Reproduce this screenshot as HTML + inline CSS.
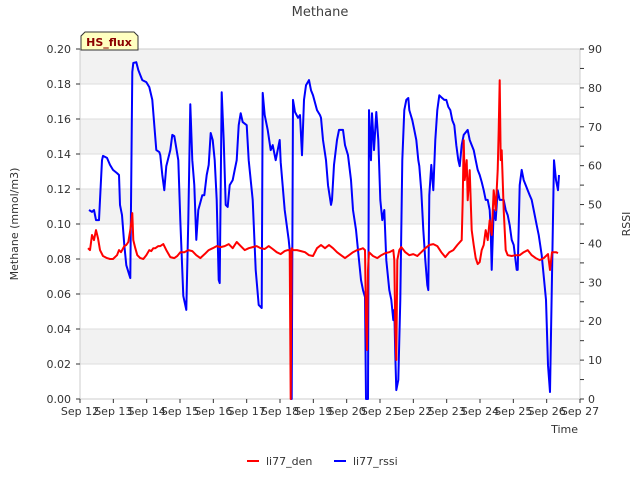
<!DOCTYPE html>
<html><head><meta charset="utf-8"><style>
body{margin:0;background:#fff;font-family:"Liberation Sans","DejaVu Sans",sans-serif;}
svg text{font-family:"DejaVu Sans","Liberation Sans",sans-serif;}
</style></head><body>
<svg id="chart" width="640" height="480" viewBox="0 0 640 480">
<text x="320" y="16" text-anchor="middle" font-size="13" fill="#404040">Methane</text>
<g id="bands"></g><g id="grid"></g>
<rect x="80" y="49" width="500" height="350" fill="none" stroke="#cccccc"/>
<g id="axes"></g><g id="series"></g>
<text transform="translate(18,224) rotate(-90)" text-anchor="middle" font-size="11" fill="#333">Methane (mmol/m3)</text>
<text transform="translate(630,224) rotate(-90)" text-anchor="middle" font-size="11" fill="#333">RSSI</text>
<text x="578" y="433" text-anchor="end" font-size="11" fill="#333">Time</text>
<g>
<path d="M81,50 L81,36 L85,32 L134,32 L138,36 L138,50 Z" fill="#ffffc0" stroke="#333"/>
<text x="109" y="46" text-anchor="middle" font-size="11" font-weight="bold" fill="#8b0000">HS_flux</text></g>
<g>
<g><line x1="247" y1="461" x2="259" y2="461" stroke="#ff0000" stroke-width="2"/><text x="266" y="465" font-size="11" fill="#333">li77_den</text></g>
<g><line x1="334" y1="461" x2="346" y2="461" stroke="#0000ff" stroke-width="2"/><text x="353" y="465" font-size="11" fill="#333">li77_rssi</text></g>
</g>
</svg>
<script>
const rssiTime=[12.27,12.36,12.42,12.48,12.57,12.60,12.66,12.69,12.81,12.90,12.99,13.11,13.17,13.20,13.26,13.33,13.39,13.48,13.51,13.57,13.60,13.69,13.75,13.81,13.87,13.99,14.08,14.17,14.23,14.29,14.38,14.41,14.47,14.53,14.59,14.71,14.77,14.83,14.95,15.01,15.10,15.19,15.25,15.31,15.37,15.43,15.49,15.55,15.67,15.73,15.80,15.86,15.92,15.98,16.04,16.10,16.16,16.19,16.25,16.31,16.37,16.43,16.49,16.58,16.64,16.70,16.76,16.82,16.88,17.00,17.06,17.18,17.27,17.36,17.45,17.48,17.54,17.63,17.72,17.78,17.87,17.93,17.99,18.02,18.14,18.26,18.32,18.35,18.39,18.45,18.54,18.60,18.66,18.72,18.78,18.87,18.93,18.99,19.11,19.20,19.23,19.29,19.38,19.44,19.53,19.56,19.62,19.71,19.77,19.89,19.95,20.04,20.13,20.19,20.28,20.37,20.43,20.49,20.55,20.58,20.64,20.67,20.73,20.76,20.82,20.89,20.95,21.01,21.07,21.13,21.19,21.28,21.34,21.40,21.43,21.46,21.49,21.55,21.61,21.67,21.73,21.79,21.85,21.88,21.97,22.03,22.09,22.15,22.18,22.24,22.30,22.36,22.42,22.45,22.48,22.54,22.60,22.66,22.72,22.78,22.84,22.93,22.99,23.05,23.11,23.17,23.23,23.29,23.35,23.39,23.45,23.51,23.63,23.69,23.75,23.81,23.87,23.93,23.99,24.05,24.11,24.17,24.23,24.29,24.32,24.35,24.41,24.47,24.53,24.59,24.65,24.71,24.77,24.83,24.89,24.95,25.01,25.10,25.13,25.19,25.25,25.31,25.37,25.43,25.49,25.55,25.61,25.70,25.76,25.85,25.98,26.04,26.10,26.22,26.28,26.34,26.37];
const rssiValues=[48.6,48.1,48.6,46.0,46.0,51.2,61.4,62.5,62.0,60.2,58.9,58.1,57.6,49.9,47.3,39.6,34.4,31.9,31.1,84.1,86.4,86.6,84.6,83.3,82.0,81.5,80.2,76.9,70.4,64.0,63.5,62.7,57.6,53.7,59.9,64.0,67.9,67.6,61.4,46.0,26.5,22.9,46.0,75.8,61.4,55.0,40.9,48.6,52.4,52.4,57.6,60.2,68.4,66.6,61.4,51.2,30.6,29.8,78.9,66.6,49.9,49.4,55.0,56.3,58.9,61.4,70.4,73.5,71.2,70.4,61.4,51.2,33.2,24.2,23.4,78.7,73.0,69.2,64.0,65.3,61.4,64.0,66.6,60.9,48.6,40.9,35.7,0,76.9,73.8,72.3,73.0,62.7,76.9,80.7,82.0,79.4,78.1,74.3,73.0,72.3,66.6,61.4,55.0,49.9,51.2,60.2,66.6,69.2,69.2,65.3,62.7,56.3,48.6,43.5,35.7,30.6,28.0,26.2,0,0,74.3,61.4,73.5,64.0,73.8,66.6,51.2,46.0,48.6,35.7,28.0,25.5,20.3,22.9,11.3,2.3,4.9,25.5,61.4,74.3,76.9,77.4,74.3,71.7,69.2,66.6,61.4,59.9,53.4,43.5,35.7,29.3,28.0,52.4,60.2,53.7,66.6,74.3,78.1,77.6,76.9,76.9,75.1,74.3,71.7,70.4,65.3,61.4,59.9,65.3,67.9,69.2,66.6,65.3,64.0,61.4,58.9,57.6,55.8,53.7,51.2,51.2,48.6,43.5,33.2,48.6,46.0,53.7,51.2,51.2,51.2,48.6,47.3,44.7,40.9,39.6,33.2,33.2,55.0,58.9,56.3,55.0,53.7,52.4,51.2,48.6,44.7,42.2,37.0,25.5,8.7,1.8,61.4,56.3,53.7,57.6];
const denTime=[12.24,12.30,12.36,12.42,12.48,12.54,12.60,12.69,12.81,12.90,12.99,13.11,13.17,13.23,13.33,13.39,13.45,13.51,13.57,13.60,13.66,13.72,13.81,13.90,13.99,14.08,14.14,14.20,14.26,14.35,14.41,14.50,14.59,14.71,14.83,14.92,15.01,15.13,15.25,15.37,15.49,15.61,15.77,15.86,15.98,16.10,16.22,16.34,16.46,16.58,16.70,16.82,16.94,17.06,17.18,17.30,17.42,17.54,17.66,17.78,17.90,18.02,18.14,18.23,18.29,18.32,18.35,18.39,18.51,18.63,18.75,18.87,18.99,19.11,19.23,19.35,19.47,19.59,19.71,19.83,19.95,20.07,20.19,20.31,20.43,20.49,20.55,20.58,20.61,20.64,20.67,20.79,20.92,21.04,21.16,21.28,21.40,21.43,21.46,21.49,21.52,21.58,21.64,21.76,21.88,22.00,22.12,22.24,22.36,22.48,22.60,22.72,22.84,22.96,23.08,23.20,23.32,23.45,23.48,23.51,23.54,23.60,23.63,23.69,23.75,23.81,23.87,23.93,23.99,24.05,24.11,24.17,24.23,24.29,24.35,24.41,24.47,24.53,24.56,24.59,24.62,24.65,24.71,24.77,24.83,24.95,25.07,25.19,25.31,25.43,25.55,25.67,25.79,25.91,26.04,26.10,26.16,26.28,26.34];
const denValues=[.0862,.0851,.0937,.0908,.0965,.0919,.0851,.0817,.0805,.0800,.0800,.0822,.0851,.0839,.0874,.0880,.0897,.0965,.1062,.0908,.0862,.0822,.0805,.0800,.0822,.0851,.0845,.0862,.0862,.0874,.0874,.0885,.0851,.0811,.0805,.0817,.0839,.0839,.0851,.0845,.0822,.0805,.0834,.0851,.0862,.0874,.0868,.0874,.0885,.0862,.0897,.0874,.0851,.0862,.0868,.0874,.0862,.0857,.0874,.0857,.0839,.0828,.0845,.0851,.0851,0,.0862,.0851,.0851,.0845,.0839,.0822,.0817,.0862,.0880,.0862,.0880,.0862,.0839,.0822,.0805,.0822,.0839,.0851,.0857,.0862,.0851,.0451,.0280,.0737,.0839,.0817,.0805,.0822,.0834,.0839,.0851,.0794,.0394,.0223,.0794,.0851,.0868,.0839,.0822,.0828,.0817,.0839,.0862,.0880,.0885,.0874,.0839,.0811,.0839,.0851,.0880,.0908,.1136,.1479,.1251,.1365,.1136,.1308,.0965,.0880,.0805,.0771,.0782,.0851,.0880,.0965,.0908,.1022,.0937,.1193,.1079,.1308,.1536,.1822,.1365,.1422,.1079,.0851,.0822,.0817,.0822,.0822,.0839,.0851,.0822,.0805,.0794,.0805,.0828,.0737,.0839,.0839,.0834];
const yTicks=[0,0.02,0.04,0.06,0.08,0.10,0.12,0.14,0.16,0.18,0.20];
const y2Ticks=[0,10,20,30,40,50,60,70,80,90];
const xTickDays=[12,13,14,15,16,17,18,19,20,21,22,23,24,25,26,27];

const NS="http://www.w3.org/2000/svg";
const L=80,R=580,T=49,B=399;
const xs=d=>L+(d-12)/15*(R-L);
const ys=v=>B-v/0.2*(B-T);
const ys2=v=>B-v/90*(B-T);
function mk(tag,attrs,parent){const e=document.createElementNS(NS,tag);for(const k in attrs)e.setAttribute(k,attrs[k]);parent.appendChild(e);return e;}
const bands=document.getElementById('bands'),grid=document.getElementById('grid'),axes=document.getElementById('axes'),series=document.getElementById('series');
for(let i=0;i<yTicks.length-1;i++){
  if(i%2===1){const r=mk('rect',{x:L,y:ys(yTicks[i+1]),width:R-L,height:ys(yTicks[i])-ys(yTicks[i+1]),fill:'#f2f2f2'},bands);
  
  }
}
yTicks.forEach(v=>{
  const g=mk('line',{x1:L,x2:R,y1:ys(v),y2:ys(v),stroke:'#dddddd'},grid);
  
  
  mk('line',{x1:L-4,x2:L,y1:ys(v),y2:ys(v),stroke:'#333'},axes);
  const t=mk('text',{x:L-9,y:ys(v)+4,'text-anchor':'end','font-size':11,fill:'#333'},axes);
  t.textContent=v.toFixed(2);
  
  
});
y2Ticks.forEach(v=>{
  mk('line',{x1:R,x2:R+4,y1:ys2(v),y2:ys2(v),stroke:'#333'},axes);
  if(v<90)mk('line',{x1:R,x2:R+4,y1:ys2(v+5),y2:ys2(v+5),stroke:'#333'},axes);
  const t=mk('text',{x:R+8,y:ys2(v)+4,'font-size':11,fill:'#333'},axes);
  t.textContent=v;
  
  
});
xTickDays.forEach(d=>{
  mk('line',{x1:xs(d),x2:xs(d),y1:B,y2:B+4,stroke:'#333'},axes);
  const t=mk('text',{x:xs(d),y:B+16,'text-anchor':'middle','font-size':11,fill:'#333'},axes);
  t.textContent='Sep '+d;
  
  
});
const pb=mk('polyline',{points:rssiTime.map((t,i)=>xs(t).toFixed(1)+','+ys2(rssiValues[i]).toFixed(1)).join(' '),fill:'none',stroke:'#0000ff','stroke-width':2,'stroke-linejoin':'round'},series);


const pr=mk('polyline',{points:denTime.map((t,i)=>xs(t).toFixed(1)+','+ys(denValues[i]).toFixed(1)).join(' '),fill:'none',stroke:'#ff0000','stroke-width':2,'stroke-linejoin':'round'},series);


</script>
</body></html>
